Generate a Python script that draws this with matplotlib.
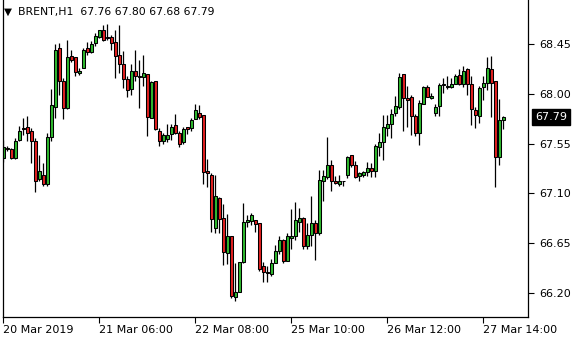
import matplotlib
matplotlib.use('Agg')
import matplotlib.pyplot as plt
from matplotlib.transforms import blended_transform_factory

# ---- data (BRENT, H1) ----
opens = [67.42, 67.51, 67.50, 67.42, 67.58, 67.69, 67.70, 67.66, 67.57, 67.23,
         67.27, 67.18, 67.61, 67.88, 68.41, 68.12, 67.87, 68.34, 68.33, 68.19,
         68.23, 68.41, 68.38, 68.46, 68.51, 68.58, 68.51, 68.51, 68.47, 68.35,
         68.27, 68.13, 68.04, 68.21, 68.16, 68.15, 68.18, 67.78, 68.12, 67.66,
         67.57, 67.59, 67.64, 67.72, 67.65, 67.56, 67.70, 67.69, 67.77, 67.83,
         67.81, 67.30, 67.27, 66.79, 67.06, 66.88, 66.56, 66.71, 66.16, 66.21,
         66.48, 66.84, 66.85, 66.86, 66.83, 66.44, 66.39, 66.37, 66.47, 66.58,
         66.68, 66.49, 66.70, 66.71, 66.84, 66.88, 66.62, 66.72, 66.83, 66.74,
         67.21, 67.25, 67.36, 67.21, 67.18, 67.21, 67.27, 67.45, 67.36, 67.26,
         67.27, 67.29, 67.33, 67.30, 67.52, 67.56, 67.69, 67.73, 67.83, 67.88,
         68.18, 67.96, 67.97, 67.80, 67.65, 67.91, 68.06, 67.96, 67.83, 67.89,
         68.08, 68.06, 68.06, 68.09, 68.17, 68.09, 68.22, 68.09, 67.85, 67.80,
         68.06, 68.10, 68.22, 68.12, 67.43, 67.76]
highs = [67.58, 67.53, 67.51, 67.60, 67.71, 67.78, 67.80, 67.69, 67.60, 67.45,
         67.37, 67.65, 68.04, 68.45, 68.46, 68.14, 68.49, 68.40, 68.33, 68.23,
         68.41, 68.47, 68.48, 68.55, 68.58, 68.62, 68.63, 68.53, 68.58, 68.62,
         68.39, 68.16, 68.27, 68.40, 68.31, 68.35, 68.18, 68.12, 68.12, 67.69,
         67.65, 67.73, 67.73, 67.82, 67.66, 67.70, 67.70, 67.78, 67.91, 67.90,
         67.81, 67.41, 67.28, 67.27, 67.07, 67.00, 66.91, 66.71, 66.47, 66.48,
         67.01, 66.90, 66.92, 66.86, 66.83, 66.48, 66.44, 66.51, 66.63, 66.71,
         66.69, 66.74, 66.96, 67.02, 66.97, 66.89, 66.83, 67.08, 66.86, 67.31,
         67.31, 67.61, 67.40, 67.26, 67.27, 67.21, 67.44, 67.45, 67.39, 67.29,
         67.30, 67.38, 67.37, 67.55, 67.65, 67.81, 67.81, 67.86, 67.98, 68.19,
         68.18, 68.07, 67.99, 67.82, 67.94, 68.07, 68.08, 68.01, 67.91, 68.10,
         68.14, 68.16, 68.14, 68.18, 68.22, 68.25, 68.23, 68.16, 67.88, 68.07,
         68.16, 68.33, 68.34, 68.12, 67.95, 67.80]
lows = [67.38, 67.48, 67.41, 67.41, 67.57, 67.63, 67.57, 67.37, 67.11, 67.21,
        67.17, 67.17, 67.57, 67.78, 67.99, 67.77, 67.86, 68.29, 68.16, 68.17,
        68.23, 68.35, 68.37, 68.43, 68.50, 68.48, 68.49, 68.40, 68.14, 68.19,
        68.05, 67.97, 67.99, 68.12, 67.87, 68.07, 67.62, 67.78, 67.67, 67.53,
        67.55, 67.56, 67.58, 67.64, 67.52, 67.55, 67.64, 67.66, 67.77, 67.77,
        67.18, 67.16, 66.75, 66.74, 66.74, 66.45, 66.46, 66.15, 66.13, 66.21,
        66.47, 66.80, 66.81, 66.75, 66.40, 66.30, 66.30, 66.35, 66.47, 66.55,
        66.47, 66.49, 66.60, 66.68, 66.75, 66.60, 66.60, 66.62, 66.50, 66.72,
        67.03, 67.23, 67.12, 67.18, 67.17, 67.17, 67.24, 67.34, 67.24, 67.21,
        67.25, 67.26, 67.25, 67.25, 67.44, 67.40, 67.62, 67.60, 67.80, 67.86,
        67.66, 67.70, 67.63, 67.62, 67.54, 67.91, 67.97, 67.95, 67.80, 67.80,
        68.01, 68.04, 68.05, 68.09, 68.08, 68.06, 67.99, 67.72, 67.69, 67.74,
        67.94, 68.03, 67.79, 67.16, 67.36, 67.68]
closes = [67.52, 67.50, 67.42, 67.57, 67.66, 67.68, 67.65, 67.57, 67.21, 67.30,
          67.18, 67.61, 67.90, 68.40, 68.12, 67.87, 68.33, 68.31, 68.20, 68.21,
          68.40, 68.38, 68.45, 68.52, 68.58, 68.49, 68.50, 68.46, 68.34, 68.27,
          68.13, 68.03, 68.21, 68.16, 68.15, 68.19, 67.79, 68.11, 67.68, 67.57,
          67.63, 67.63, 67.70, 67.65, 67.55, 67.68, 67.68, 67.76, 67.85, 67.79,
          67.29, 67.28, 66.87, 67.08, 66.87, 66.57, 66.71, 66.17, 66.21, 66.48,
          66.84, 66.86, 66.90, 66.82, 66.42, 66.39, 66.38, 66.47, 66.58, 66.68,
          66.49, 66.71, 66.71, 66.86, 66.88, 66.62, 66.72, 66.83, 66.74, 67.22,
          67.26, 67.36, 67.21, 67.19, 67.21, 67.21, 67.43, 67.36, 67.25, 67.28,
          67.29, 67.33, 67.30, 67.53, 67.56, 67.70, 67.73, 67.82, 67.89, 68.15,
          67.96, 67.94, 67.80, 67.65, 67.92, 68.06, 67.97, 67.98, 67.88, 68.08,
          68.09, 68.07, 68.09, 68.16, 68.09, 68.21, 68.09, 67.86, 67.81, 68.05,
          68.10, 68.23, 68.10, 67.43, 67.76, 67.79]

xtick_bars = [0, 24, 48, 72, 96, 120]
xtick_labels = ['20 Mar 2019', '21 Mar 06:00', '22 Mar 08:00',
                '25 Mar 10:00', '26 Mar 12:00', '27 Mar 14:00']
ytick_values = [66.20, 66.65, 67.10, 67.55, 68.00, 68.45]
ytick_labels = ['66.20', '66.65', '67.10', '67.55', '68.00', '68.45']
last_price = 67.79
title_text = 'BRENT,H1  67.76 67.80 67.68 67.79'

# ---- style ----
UP = '#2EB82E'
DOWN = '#E02020'
W, H = 580, 340

fig = plt.figure(figsize=(W / 100, H / 100), dpi=100)
fig.patch.set_facecolor('white')
ax = fig.add_axes([3 / W, 23 / H, 525 / W, 317 / H])
ax.set_facecolor('white')

n = len(opens)
xs = list(range(n))
ax.vlines(xs, lows, highs, colors='black', linewidth=0.9, zorder=1)
bottoms = [min(o, c) for o, c in zip(opens, closes)]
heights = [abs(c - o) for o, c in zip(opens, closes)]
cols = [UP if c >= o else DOWN for o, c in zip(opens, closes)]
ax.bar(xs, heights, bottom=bottoms, width=0.75, color=cols,
       edgecolor='black', linewidth=0.75, zorder=2)

ax.set_xlim(-0.075, 131.2)
ax.set_ylim(65.982, 68.848)

for s in ['left', 'right', 'bottom']:
    ax.spines[s].set_color('black')
    ax.spines[s].set_linewidth(0.9)
ax.spines['top'].set_visible(False)

ax.yaxis.tick_right()
ax.set_yticks(ytick_values)
ax.set_yticklabels(ytick_labels)
ax.set_xticks(xtick_bars)
ax.set_xticklabels(xtick_labels, ha='left')
ax.tick_params(axis='y', direction='out', length=4, width=0.8, labelsize=8,
               pad=4, colors='black')
ax.tick_params(axis='x', direction='out', length=4, width=0.8, labelsize=8,
               pad=1.5, colors='black')

# current price label
tr = blended_transform_factory(fig.transFigure, ax.transData)
ax.text(535 / W, last_price, f'{last_price:.2f}', transform=tr, color='white',
        fontsize=8, va='center', ha='left', zorder=5,
        bbox=dict(boxstyle='square,pad=0.3', fc='black', ec='black'))

# title
fig.text(4 / W, 1 - 11.5 / H, '\u25BC', fontsize=7.5, va='center', ha='left', color='black')
fig.text(18 / W, 1 - 12 / H, title_text, fontsize=7.8, va='center', ha='left',
         color='black')

fig.savefig('out.png', dpi=100, facecolor='white')
